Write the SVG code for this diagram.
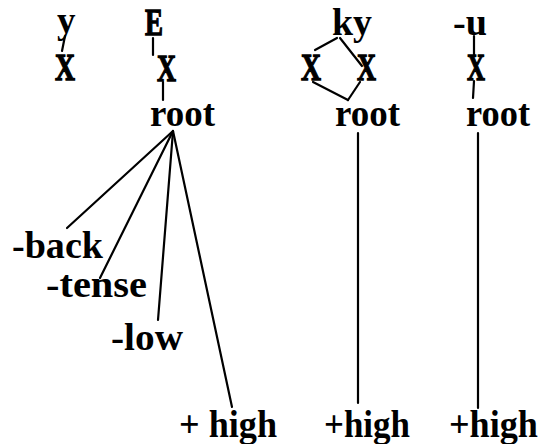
<svg xmlns="http://www.w3.org/2000/svg" width="540" height="444" viewBox="0 0 540 444">
<style>
text{font-family:"Liberation Serif","Times New Roman",serif;font-weight:bold;font-size:37px;fill:#000}
.sq{stroke:#000;stroke-width:1.3}
.ln{stroke:#000;stroke-width:2.2;fill:none;stroke-linecap:round}
</style>
<rect width="540" height="444" fill="#fff"/>
<g id="connectors" class="ln">
<line x1="65" y1="36" x2="62" y2="51"/>
<line x1="153" y1="38" x2="153" y2="55"/>
<line x1="163" y1="82" x2="163" y2="100"/>
<line x1="173" y1="131" x2="67" y2="228"/>
<line x1="173" y1="131" x2="100" y2="278"/>
<line x1="173" y1="131" x2="158" y2="320"/>
<line x1="173" y1="131" x2="232" y2="407"/>
<line x1="337" y1="38" x2="315" y2="50"/>
<line x1="340" y1="38" x2="362" y2="66"/>
<line x1="313" y1="82" x2="348" y2="100"/>
<line x1="360" y1="82" x2="348" y2="100"/>
<line x1="358" y1="133" x2="358" y2="403"/>
<line x1="474" y1="36" x2="474" y2="55"/>
<line x1="474" y1="81" x2="473" y2="98"/>
<line x1="478" y1="133" x2="478" y2="408"/>
</g>
<g id="y1"><text x="57" y="33">y</text></g>
<g id="x1"><text class="sq" x="55" y="80" textLength="20" lengthAdjust="spacingAndGlyphs">X</text></g>
<g id="e2"><text class="sq" x="145" y="35" textLength="18" lengthAdjust="spacingAndGlyphs">E</text></g>
<g id="x2"><text class="sq" x="157" y="81" textLength="19" lengthAdjust="spacingAndGlyphs">X</text></g>
<g id="root2"><text x="150" y="126" textLength="65" lengthAdjust="spacingAndGlyphs">root</text></g>
<g id="back"><text x="12" y="258" textLength="91" lengthAdjust="spacingAndGlyphs">-back</text></g>
<g id="tense"><text x="46" y="297" textLength="101" lengthAdjust="spacingAndGlyphs">-tense</text></g>
<g id="low"><text x="111" y="350" textLength="72" lengthAdjust="spacingAndGlyphs">-low</text></g>
<g id="high2"><text x="179" y="437" textLength="98" lengthAdjust="spacingAndGlyphs">+ high</text></g>
<g id="ky3"><text x="332" y="35" textLength="40" lengthAdjust="spacingAndGlyphs">ky</text></g>
<g id="x3a"><text class="sq" x="301" y="80" textLength="20" lengthAdjust="spacingAndGlyphs">X</text></g>
<g id="x3b"><text class="sq" x="357" y="80" textLength="19" lengthAdjust="spacingAndGlyphs">X</text></g>
<g id="root3"><text x="335" y="126" textLength="65" lengthAdjust="spacingAndGlyphs">root</text></g>
<g id="high3"><text x="324" y="437" textLength="86" lengthAdjust="spacingAndGlyphs">+high</text></g>
<g id="u4"><text x="453" y="35" textLength="34" lengthAdjust="spacingAndGlyphs">-u</text></g>
<g id="x4"><text class="sq" x="467" y="80" textLength="18" lengthAdjust="spacingAndGlyphs">X</text></g>
<g id="root4"><text x="466" y="126" textLength="64" lengthAdjust="spacingAndGlyphs">root</text></g>
<g id="high4"><text x="449" y="437" textLength="89" lengthAdjust="spacingAndGlyphs">+high</text></g>
</svg>
